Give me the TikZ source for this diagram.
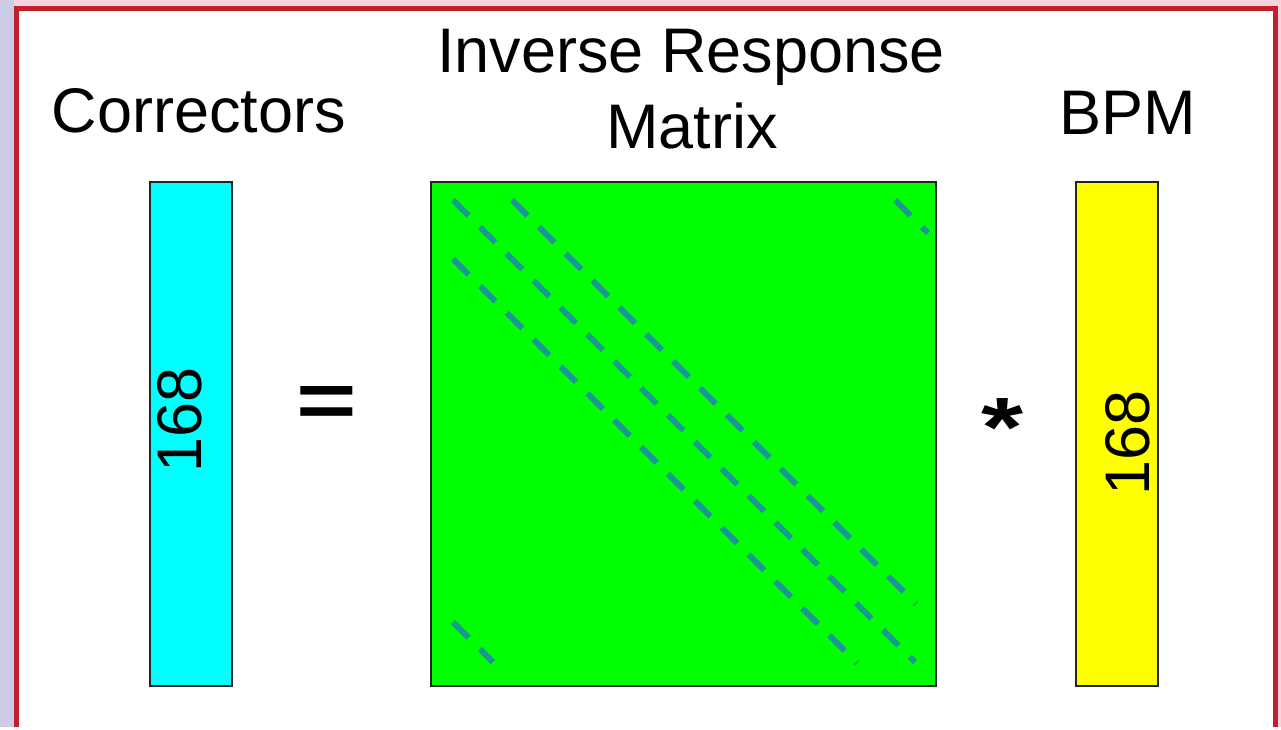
\documentclass[tikz,border=0pt]{standalone}
\usepackage{fontspec}
\setmainfont{Liberation Sans}
\usetikzlibrary{positioning}
\definecolor{rmFrame}{HTML}{C0202C}
\definecolor{rmBack}{HTML}{F4D4DE}
\definecolor{rmSide}{HTML}{CCCCE4}
\definecolor{rmEdge}{HTML}{1C2828}
\definecolor{rmCyan}{HTML}{00FFFF}
\definecolor{rmGreen}{HTML}{00FF00}
\definecolor{rmYellow}{HTML}{FFFF00}
\definecolor{rmBand}{HTML}{1E9696}
\tikzset{
  rm diagram/.style={x=0.5pt, y=-0.5pt,
    font=\fontsize{31.5}{38}\selectfont},
  rm frame/.style={draw=rmFrame, line width=2.5pt},
  rm vector/.style={draw=rmEdge, line width=1pt, inner sep=0pt,
    minimum width=41pt, minimum height=252pt},
  rm matrix/.style={rm vector, fill=rmGreen, minimum width=252.5pt},
  rm title/.style={anchor=base, inner sep=0pt},
  rm size/.style={rotate=90, inner sep=0pt},
  rm op/.style={anchor=base, inner sep=0pt,
    font=\fontsize{54}{60}\selectfont\bfseries},
  rm band/.style={draw=rmBand, line width=3pt, dash pattern=on 11pt off 8pt}
}
\begin{document}
\begin{tikzpicture}[rm diagram]
\fill[rmBack] (0,0) rectangle (1281,727);
\fill[rmSide] (0,0) rectangle (14,727);
\fill[white] (16,8) rectangle (1275,727);
\draw[rm frame] (16,727) -- (16,8) -- (1275,8) -- (1275,727);
\useasboundingbox (0,0) rectangle (1281,727);
% vectors and matrix
\node[rm vector, fill=rmCyan] (corr) at (190.5,434) {};
\node[rm matrix] (irm) at (683.5,434) {};
\node[rm vector, fill=rmYellow] (bpm) at (1117,434) {};
\foreach \xa/\ya/\xb/\yb in {453/200/915/662,512/200/916/604,453/259/857/663,895/200/928/233,453/622/493/662}
  \draw[rm band] (\xa,\ya) -- (\xb,\yb);
% titles
\node[rm title] (corr title) at (199,132) {Correctors};
\node[rm title] (irm title) at (691,72) {Inverse Response};
\node[rm title] (irm title2) at (692,148) {Matrix};
\node[rm title] (bpm title) at (1127.5,134) {BPM};
% sizes and operators
\node[rm size] (corr size) at (180,420) {168};
\node[rm size] (bpm size) at (1128,443) {168};
\node[rm op] (eq) at (326.5,427) {\scalebox{0.96}[0.73]{=}};
\node[rm op] (times) at (1003,456.5) {\scalebox{1}[0.78]{*}};
\end{tikzpicture}
\end{document}
